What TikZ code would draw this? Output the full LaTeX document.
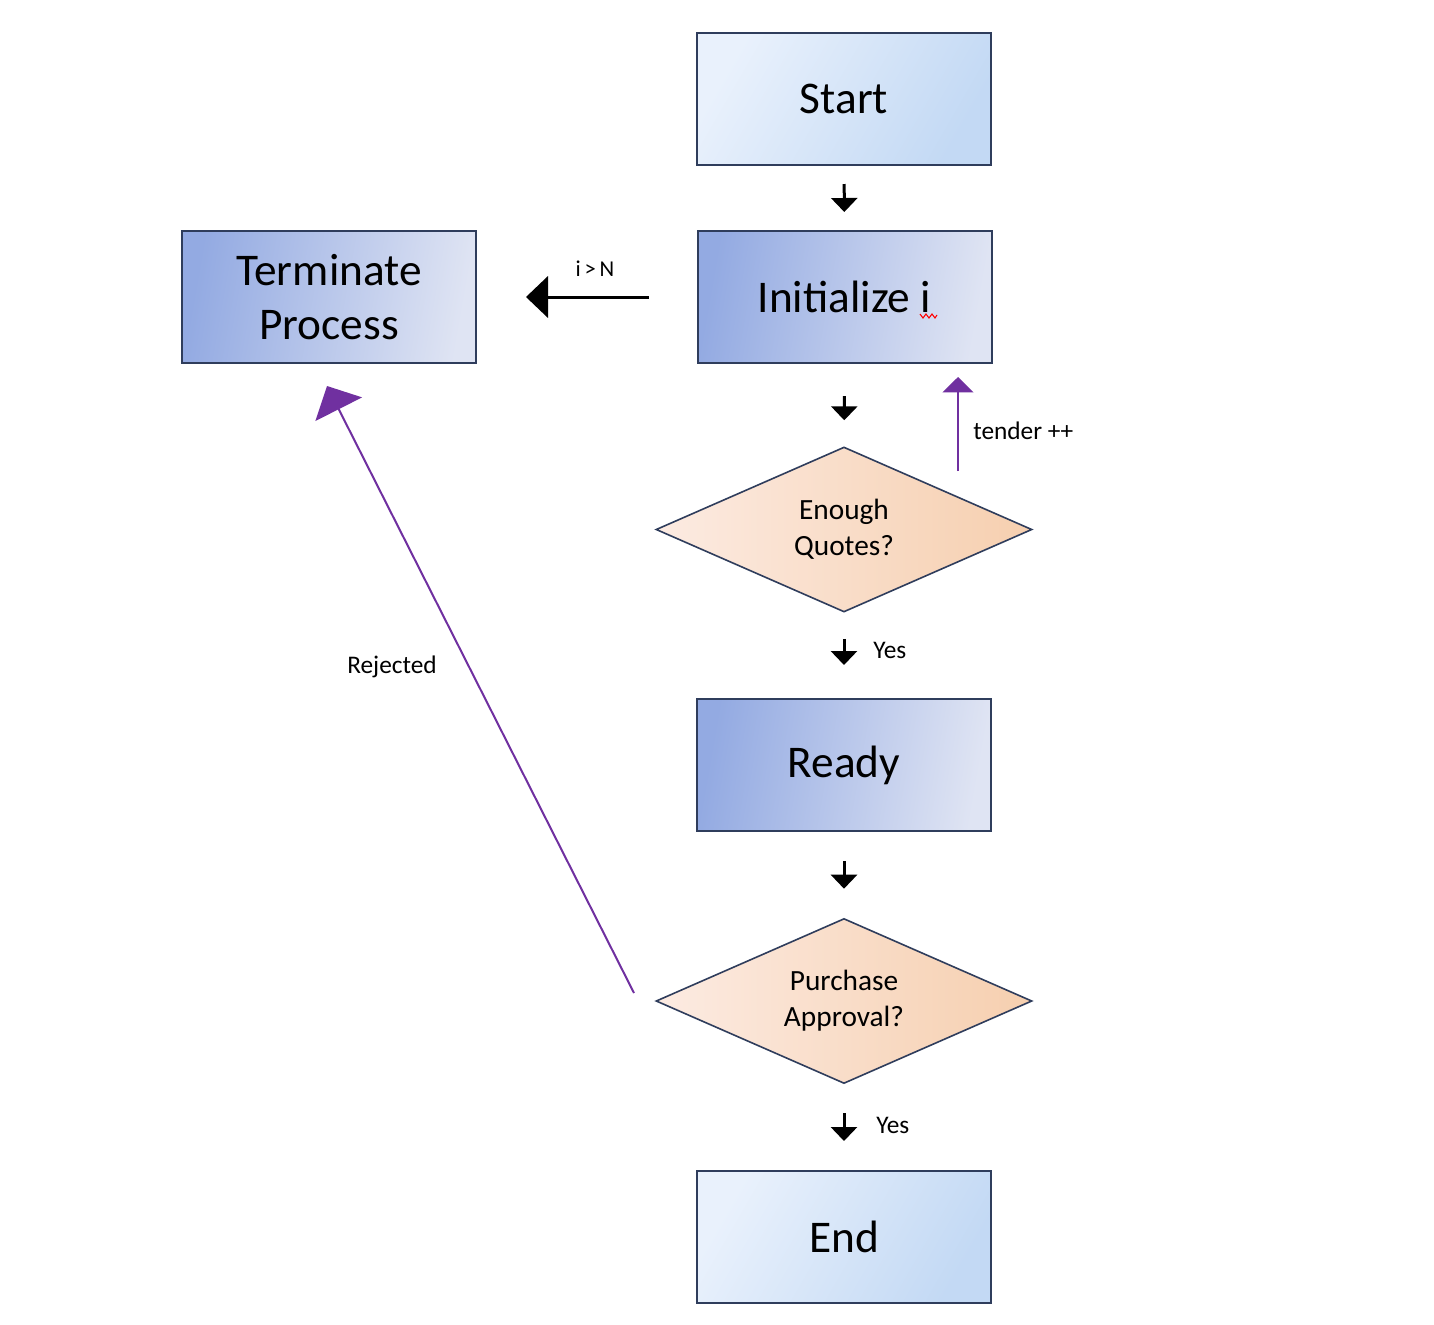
\documentclass[tikz,border=0pt]{standalone}
\usepackage{fontspec}
\setmainfont{Carlito}
\usetikzlibrary{arrows.meta,shapes.geometric}
\definecolor{navy}{HTML}{2F3D5C}
\definecolor{purp}{HTML}{7030A0}
\definecolor{lbA}{HTML}{E9F1FC}
\definecolor{lbB}{HTML}{C3D9F4}
\definecolor{dbA}{HTML}{93AAE2}
\definecolor{dbB}{HTML}{DFE4F3}
\definecolor{orA}{HTML}{FCEBE2}
\definecolor{orB}{HTML}{F6CFAF}
\tikzset{
  lightbox/.style={draw=navy, line width=1.5pt, minimum width=220.5pt, minimum height=99pt,
    inner sep=0pt, left color=lbA, right color=lbB, shading angle=60,
    font=\fontsize{34}{40}\selectfont, align=center},
  darkbox/.style={draw=navy, line width=1.5pt, minimum width=220.5pt, minimum height=99pt,
    inner sep=0pt, left color=dbA, right color=dbB, shading angle=80,
    font=\fontsize{34}{40}\selectfont, align=center},
  decision/.style={diamond, draw=navy, line width=1.2pt, minimum width=282pt, minimum height=123.75pt,
    shape aspect=2.28, inner sep=0pt, left color=orA, right color=orB,
    font=\fontsize{22}{27}\selectfont, align=center},
  downarrow/.style={draw=black, line width=2.25pt, -{Triangle[width=19.5pt,length=10.5pt]}},
  blackarrow/.style={draw=black, line width=2.25pt, -{Triangle[width=31pt,length=16.5pt]}},
  purparrow/.style={draw=purp, line width=1.5pt, -{Triangle[width=23pt,length=11.5pt]}},
  bigpurparrow/.style={draw=purp, line width=1.5pt, -{Triangle[width=39pt,length=19.5pt]}},
  smalllabel/.style={inner sep=0pt, font=\fontsize{19}{22}\selectfont},
  tinylabel/.style={inner sep=0pt, font=\fontsize{17}{20}\selectfont},
}
\begin{document}
\begin{tikzpicture}[x=0.75pt,y=-0.75pt]
\useasboundingbox (0,0) rectangle (1434,1324);
\fill[white] (0,0) rectangle (1434,1324);

\node[lightbox] (start) at (844,99) {Start};
\node[darkbox] (init) at (844.5,297) {Initialize i};
\node[darkbox] (term) at (329,297) {Terminate\\Process};
\node[decision] (enough) at (844,529.5) {Enough\\Quotes?};
\node[darkbox] (ready) at (844,765) {Ready};
\node[decision] (purchase) at (844,1001) {Purchase\\Approval?};
\node[lightbox] (end) at (844,1237) {End};

% spell-check squiggle under the i
\draw[red, line width=0.8pt] (920,314) -- (923,318) -- (926,314) -- (929,318) -- (932,314) -- (935,318) -- (937,315);

% short down arrows
\draw[downarrow, shorten <=13.5pt, shorten >=13.5pt] (start) -- (init);
\draw[downarrow, shorten <=24pt, shorten >=19.5pt] (init) -- (enough);
\draw[downarrow, shorten <=19.5pt, shorten >=24.75pt] (enough) -- (ready);
\draw[downarrow, shorten <=21.75pt, shorten >=21.75pt] (ready) -- (purchase);
\draw[downarrow, shorten <=21.75pt, shorten >=21.75pt] (purchase) -- (end);

% i > N
\draw[blackarrow, shorten <=36pt, shorten >=36.75pt] (init) -- (term);
\node[tinylabel] (lblN) at (595,269) {i\,>\,N};

% tender ++
\coordinate (tb) at (958,471);
\draw[purparrow, shorten >=9.75pt] (tb) -- (init.south -| tb);
\node[smalllabel, anchor=west] (lblT) at (973,431) {tender ++};

% Rejected
\coordinate (rs) at (634,993);
\coordinate (rt) at (327,386);
\draw[bigpurparrow] (rs) -- (rt);
\node[smalllabel, anchor=west] (lblR) at (347,667) {Rejected};

% Yes labels
\node[smalllabel, anchor=west] (yes1) at (873,650) {Yes};
\node[smalllabel, anchor=west] (yes2) at (876,1125) {Yes};
\end{tikzpicture}
\end{document}
